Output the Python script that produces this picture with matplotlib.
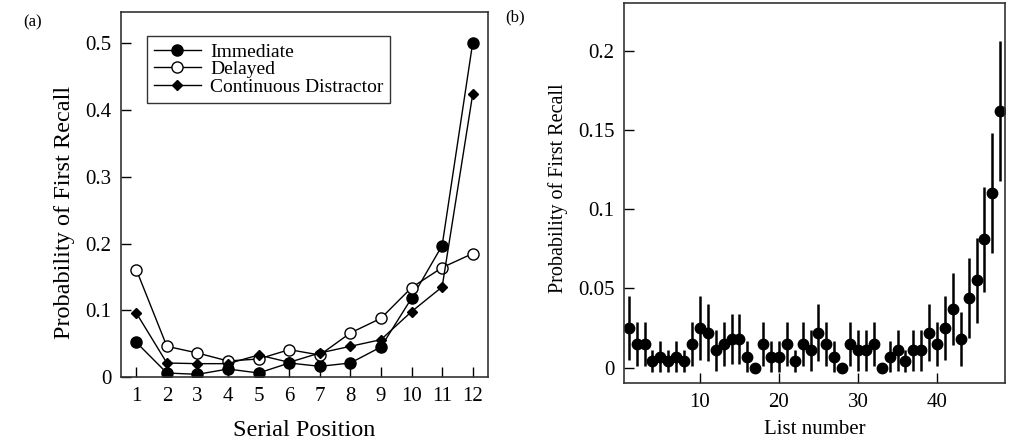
import matplotlib
matplotlib.use("Agg")
import matplotlib.pyplot as plt

plt.rcParams['font.family'] = ['Liberation Serif', 'DejaVu Serif']

# panel (a): probability of first recall by serial position
serial_pos = list(range(1, 13))
immediate = [0.052, 0.006, 0.004, 0.012, 0.006, 0.021, 0.016, 0.021, 0.045, 0.118, 0.197, 0.501]
delayed = [0.161, 0.046, 0.036, 0.024, 0.027, 0.041, 0.033, 0.066, 0.088, 0.134, 0.164, 0.185]
distractor = [0.096, 0.021, 0.020, 0.020, 0.033, 0.022, 0.036, 0.046, 0.056, 0.098, 0.135, 0.424]

# panel (b): probability of first recall by list number
list_num = list(range(1, 49))
pfr_list = [0.025, 0.015, 0.015, 0.004, 0.007, 0.004, 0.007, 0.004, 0.015, 0.025,
            0.022, 0.011, 0.015, 0.018, 0.018, 0.007, 0.000, 0.015, 0.007, 0.007,
            0.015, 0.004, 0.015, 0.011, 0.022, 0.015, 0.007, 0.000, 0.015, 0.011,
            0.011, 0.015, 0.000, 0.007, 0.011, 0.004, 0.011, 0.011, 0.022, 0.015,
            0.025, 0.037, 0.018, 0.044, 0.055, 0.081, 0.110, 0.162]
pfr_err = [0.020, 0.014, 0.014, 0.007, 0.010, 0.007, 0.010, 0.007, 0.014, 0.020,
           0.018, 0.013, 0.014, 0.016, 0.016, 0.010, 0.000, 0.014, 0.010, 0.010,
           0.014, 0.007, 0.014, 0.013, 0.018, 0.014, 0.010, 0.000, 0.014, 0.013,
           0.013, 0.014, 0.000, 0.010, 0.013, 0.007, 0.013, 0.013, 0.018, 0.014,
           0.020, 0.023, 0.017, 0.025, 0.027, 0.033, 0.038, 0.044]

fig = plt.figure(figsize=(10.15, 4.41), dpi=100)
ax1 = fig.add_axes([0.1192, 0.1451, 0.3616, 0.8277])
ax2 = fig.add_axes([0.6148, 0.1315, 0.3754, 0.8617])

ax1.plot(serial_pos, immediate, color='black', lw=1, marker='o', ms=8,
         mfc='black', mec='black', label='Immediate')
ax1.plot(serial_pos, delayed, color='black', lw=1, marker='o', ms=8,
         mfc='white', mec='black', mew=1, label='Delayed')
ax1.plot(serial_pos, distractor, color='black', lw=1, marker='D', ms=5.5,
         mfc='black', mec='black', label='Continuous Distractor')

ax1.set_xlim(0.5, 12.5)
ax1.set_ylim(0, 0.547)
ax1.set_xticks(serial_pos)
ax1.set_yticks([0, 0.1, 0.2, 0.3, 0.4, 0.5])
ax1.set_yticklabels(['0', '0.1', '0.2', '0.3', '0.4', '0.5'])
ax1.set_xlabel('Serial Position', fontsize=17.5, labelpad=10)
ax1.set_ylabel('Probability of First Recall', fontsize=17.5)
ax1.yaxis.set_label_coords(-0.124, 0.45)
leg = ax1.legend(loc='upper left', bbox_to_anchor=(0.071, 0.934), borderaxespad=0,
                 fontsize=14, frameon=True, fancybox=False, edgecolor='black',
                 handlelength=2.4, labelspacing=0.0, borderpad=0.35, handletextpad=0.5)
leg.get_frame().set_linewidth(1)

ax2.errorbar(list_num, pfr_list, yerr=pfr_err, fmt='o', color='black', ms=7.5,
             elinewidth=1.8, capsize=0)
ax2.set_xlim(0.4, 48.6)
ax2.set_ylim(-0.0097, 0.230)
ax2.set_xticks([10, 20, 30, 40])
ax2.set_yticks([0, 0.05, 0.1, 0.15, 0.2])
ax2.set_yticklabels(['0', '0.05', '0.1', '0.15', '0.2'])
ax2.set_xlabel('List number', fontsize=15, labelpad=6)
ax2.set_ylabel('Probability of First Recall', fontsize=14.5)
ax2.yaxis.set_label_coords(-0.146, 0.512)

for ax in (ax1, ax2):
    ax.tick_params(direction='in', length=7, width=1, labelsize=15,
                   top=False, right=False, pad=7)
    for s in ax.spines.values():
        s.set_linewidth(1.2)
        s.set_color('#333333')

fig.text(23 / 1015, 1 - 22 / 441, '(a)', fontsize=12, ha='left', va='center')
fig.text(505 / 1015, 1 - 17 / 441, '(b)', fontsize=12, ha='left', va='center')

fig.savefig('out.png', dpi=100)
